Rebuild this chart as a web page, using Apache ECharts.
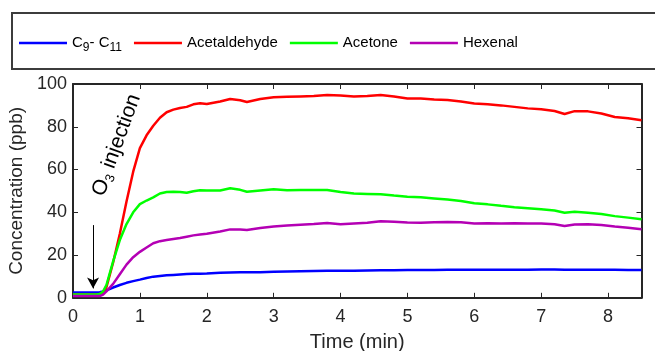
<!DOCTYPE html>
<html>
<head>
<meta charset="utf-8">
<script src="https://cdn.jsdelivr.net/npm/echarts@6/dist/echarts.min.js"></script>
<style>
html,body{margin:0;padding:0;background:#fff;}
#chart{width:655px;height:351px;}
</style>
</head>
<body>
<div id="chart"></div>
<script>
// ---- data ----
var seriesNames = ['C9-C11', 'Acetaldehyde', 'Acetone', 'Hexenal'];
var time = [0, 0.35, 0.4, 0.45, 0.5, 0.6, 0.7, 0.8, 0.9, 1.0, 1.1, 1.2, 1.3, 1.4, 1.5, 1.6, 1.7, 1.8, 1.9, 2.0,
  2.2, 2.35, 2.5, 2.6, 2.8, 3.0, 3.2, 3.4, 3.6, 3.8, 4.0, 4.2, 4.4, 4.6, 4.8,
  5.0, 5.2, 5.4, 5.6, 5.8, 6.0, 6.2, 6.4, 6.6, 6.8, 7.0, 7.2, 7.35, 7.5, 7.7, 7.9, 8.1, 8.3, 8.5];
var c9c11 = [2.5, 2.5, 2.6, 3, 3.5, 4.8, 6, 7, 7.8, 8.5, 9.3, 9.9, 10.2, 10.5, 10.7, 10.9, 11.1, 11.2, 11.3, 11.4,
  11.7, 11.8, 11.9, 11.9, 12.0, 12.2, 12.3, 12.4, 12.5, 12.6, 12.7, 12.7, 12.8, 12.9, 12.9,
  13, 13, 13, 13.1, 13.1, 13.1, 13.1, 13.1, 13.1, 13.1, 13.2, 13.2, 13.1, 13.1, 13.1, 13.1, 13.1, 13, 13];
var acetaldehyde = [1.5, 1.5, 1.8, 2.5, 5, 16.5, 30, 45, 59, 70, 76, 80.5, 84.2, 86.8, 88, 88.8, 89.3, 90.5, 91, 90.6,
  91.8, 93, 92.4, 91.6, 93, 93.8, 94, 94.2, 94.4, 94.8, 94.6, 94.2, 94.4, 94.8, 94.2,
  93.2, 93.2, 92.8, 92.5, 91.8, 90.9, 90.5, 90, 89.3, 88.6, 88.2, 87.4, 86, 87.3, 87.2, 86.2, 84.6, 84, 83];
var acetone = [1.5, 1.5, 1.8, 3, 6, 17, 27, 34.5, 40, 43.8, 45.5, 47, 48.8, 49.5, 49.6, 49.5, 49.1, 49.8, 50.3, 50.2,
  50.2, 51.2, 50.5, 49.6, 50.2, 50.8, 50.3, 50.4, 50.4, 50.4, 49.5, 48.8, 48.6, 48.4, 47.8,
  47.3, 47, 46.5, 46, 45.3, 44.2, 43.7, 43, 42.4, 41.9, 41.4, 40.8, 39.8, 40.2, 39.8, 39.2, 38.2, 37.5, 36.7];
var hexenal = [0.8, 0.8, 0.8, 1.5, 3, 6.5, 11, 15.5, 19, 21.5, 23.5, 25.5, 26.5, 27, 27.5, 28, 28.6, 29.2, 29.6, 30,
  31, 32, 31.9, 31.7, 32.6, 33.4, 33.8, 34.2, 34.5, 35, 34.4, 34.8, 35.1, 35.8, 35.6,
  35.2, 35.1, 35.3, 35.5, 35.3, 34.8, 34.9, 34.8, 34.9, 34.8, 34.8, 34.4, 33.6, 34.3, 34.4, 34, 33.3, 32.8, 32.1];
var yTicks = [0, 20, 40, 60, 80, 100];
var xTicks = [0, 1, 2, 3, 4, 5, 6, 7, 8];
var arrowFrom = [0.3, 34];
var arrowTo = [0.3, 4.4];
var annotationAt = [0.65, 71.4];

var colors = ['#0000ff', '#ff0000', '#00ff00', '#b400b4'];
var values = [c9c11, acetaldehyde, acetone, hexenal];

function pairs(arr) { return time.map(function (t, i) { return [t, arr[i]]; }); }

var FONT = 'Arial, "Liberation Sans", sans-serif';
var AX = '#262626';

var chart = echarts.init(document.getElementById('chart'), null, { renderer: 'canvas' });

var series = seriesNames.map(function (n, i) {
  var s = {
    name: n, type: 'line', data: pairs(values[i]), showSymbol: false, symbol: 'none',
    lineStyle: { color: colors[i], width: 2.5 }, itemStyle: { color: colors[i] },
    z: 3 + i, animation: false
  };
  if (i === 0) {
    s.markLine = {
      silent: true, animation: false,
      symbol: ['none', 'arrow'], symbolSize: [9, 11],
      label: { show: false },
      lineStyle: { color: '#000', width: 1, type: 'solid' },
      data: [[{ coord: arrowFrom }, { coord: arrowTo }]]
    };
  }
  return s;
});

var axisCommon = {
  axisLine: { show: true, onZero: false, lineStyle: { color: AX, width: 2 } },
  axisTick: { show: true, inside: true, length: 5, lineStyle: { color: AX, width: 1 } },
  splitLine: { show: false }
};

var legendBox = {
  type: 'rect', id: 'legendBox', z: -1, silent: true,
  shape: { x: 12, y: 13, width: 700, height: 56 },
  style: { fill: '#fff', stroke: '#3c3c3c', lineWidth: 2 }
};

chart.setOption({
  animation: false,
  backgroundColor: '#fff',
  textStyle: { fontFamily: FONT },
  grid: { left: 73, right: 13.5, top: 84, bottom: 53.2, containLabel: false, outerBoundsMode: 'none' },
  legend: {
    left: 19, top: 32, padding: 0, itemGap: 12, itemWidth: 48, itemHeight: 2.5,
    icon: 'rect',
    data: seriesNames,
    formatter: function (name) {
      if (name === 'C9-C11') return '{n|C}{s|9}{n|- C}{s|11}';
      return '{n|' + name + '}';
    },
    textStyle: {
      fontFamily: FONT, color: '#000',
      rich: {
        n: { fontSize: 15, lineHeight: 20, fontFamily: FONT, color: '#000', verticalAlign: 'middle' },
        s: { fontSize: 12, lineHeight: 12, padding: [10, 0, 0, 0], fontFamily: FONT, color: '#000', verticalAlign: 'middle' }
      }
    }
  },
  xAxis: [
    Object.assign({}, axisCommon, {
      type: 'value', min: 0, max: 8.5, interval: 1, position: 'bottom',
      name: 'Time (min)', nameLocation: 'middle', nameGap: 35,
      nameTextStyle: { fontSize: 20, color: AX, fontFamily: FONT },
      axisLabel: {
        fontSize: 18, color: AX, margin: 10, fontFamily: FONT,
        formatter: function (v) { return xTicks.indexOf(v) >= 0 ? String(v) : ''; }
      }
    }),
    Object.assign({}, axisCommon, {
      type: 'value', min: 0, max: 8.5, interval: 1, position: 'top',
      axisLabel: { show: false }
    })
  ],
  yAxis: [
    Object.assign({}, axisCommon, {
      type: 'value', min: 0, max: 100, interval: 20, position: 'left',
      name: 'Concentration (ppb)', nameLocation: 'middle', nameGap: 35,
      nameTextStyle: { fontSize: 19, color: AX, fontFamily: FONT },
      axisLabel: {
        fontSize: 18, color: AX, margin: 6, fontFamily: FONT,
        formatter: function (v) { return yTicks.indexOf(v) >= 0 ? String(v) : ''; }
      }
    }),
    Object.assign({}, axisCommon, {
      type: 'value', min: 0, max: 100, interval: 20, position: 'right',
      axisLabel: { show: false }
    })
  ],
  series: series,
  graphic: [legendBox]
});

var p = chart.convertToPixel({ gridIndex: 0 }, annotationAt);
chart.setOption({
  graphic: [
    legendBox,
    {
      type: 'text', id: 'annot', silent: true, z: 10,
      x: p[0], y: p[1], rotation: 70 * Math.PI / 180,
      style: {
        text: '{o|O}{s|3}{o| injection}',
        align: 'center', verticalAlign: 'middle',
        fill: '#000',
        rich: {
          o: { fontSize: 21, lineHeight: 26, fontFamily: FONT, fill: '#000', verticalAlign: 'middle' },
          s: { fontSize: 13, lineHeight: 13, padding: [12, 0, 0, 0], fontFamily: FONT, fill: '#000', verticalAlign: 'middle' }
        }
      }
    }
  ]
});
</script>
</body>
</html>
